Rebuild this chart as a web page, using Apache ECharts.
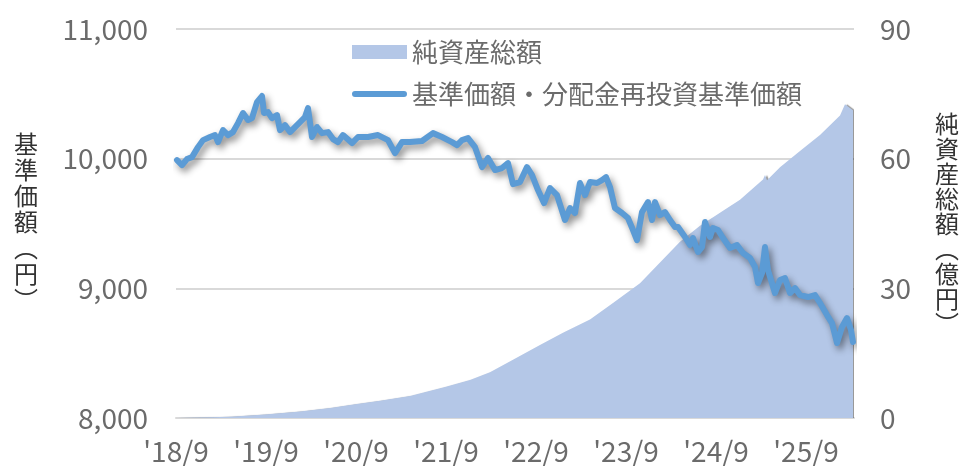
<!DOCTYPE html>
<html><head><meta charset="utf-8">
<script src="https://cdn.jsdelivr.net/npm/echarts@6/dist/echarts.min.js"></script>
<style>html,body{margin:0;padding:0;background:#fff}#c{width:965px;height:466px}</style>
</head><body><div id="c"></div>
<script>
// 基準価額・分配金再投資基準価額 (円)
const navDates = ['2018-09-05','2018-09-25','2018-10-15','2018-11-05','2018-11-29','2018-12-19','2019-01-17','2019-02-07','2019-02-19','2019-03-09','2019-03-29','2019-04-19','2019-05-09','2019-05-29','2019-06-19','2019-07-05','2019-07-25','2019-08-15','2019-08-23','2019-09-09','2019-09-25','2019-10-15','2019-10-27','2019-11-17','2019-12-07','2019-12-27','2020-01-17','2020-02-07','2020-02-19','2020-03-05','2020-03-25','2020-04-15','2020-05-09','2020-05-29','2020-06-19','2020-07-09','2020-08-15','2020-09-09','2020-10-19','2020-11-29','2021-01-09','2021-02-07','2021-03-05','2021-04-07','2021-05-25','2021-07-09','2021-08-15','2021-09-25','2021-10-15','2021-11-05','2021-11-29','2021-12-27','2022-01-25','2022-02-19','2022-03-17','2022-04-15','2022-05-09','2022-05-29','2022-06-27','2022-07-25','2022-08-15','2022-09-09','2022-10-03','2022-10-27','2022-11-25','2022-12-27','2023-01-17','2023-02-07','2023-02-27','2023-03-17','2023-04-07','2023-05-05','2023-05-25','2023-06-11','2023-06-27','2023-07-17','2023-08-15','2023-09-09','2023-09-29','2023-10-15','2023-11-05','2023-11-29','2023-12-15','2023-12-27','2024-01-17','2024-02-07','2024-02-27','2024-03-17','2024-03-29','2024-04-27','2024-05-17','2024-05-29','2024-06-19','2024-07-05','2024-07-17','2024-08-07','2024-08-19','2024-09-09','2024-09-29','2024-10-27','2024-11-25','2024-12-19','2025-01-17','2025-02-07','2025-02-19','2025-03-05','2025-03-17','2025-03-29','2025-04-27','2025-05-17','2025-06-07','2025-06-27','2025-07-17','2025-08-07','2025-09-09','2025-10-07','2025-10-27','2025-11-25','2025-12-15','2026-01-05','2026-01-25','2026-02-15','2026-03-01','2026-03-09'];
const navValues = [9989,9951,9997,10012,10089,10143,10167,10182,10128,10220,10182,10205,10274,10352,10298,10313,10436,10483,10352,10359,10313,10336,10220,10259,10205,10244,10282,10321,10390,10167,10244,10197,10205,10151,10128,10182,10120,10167,10167,10182,10143,10043,10128,10128,10136,10197,10167,10128,10105,10143,10159,10089,9935,10005,9912,9928,9966,9804,9820,9935,9874,9758,9658,9773,9719,9527,9619,9581,9812,9719,9820,9812,9835,9858,9781,9619,9581,9542,9450,9372,9588,9665,9527,9665,9565,9588,9527,9473,9473,9396,9334,9388,9280,9318,9511,9396,9465,9450,9388,9311,9334,9272,9234,9164,9041,9118,9318,9141,8964,9064,9079,8964,9002,8948,8933,8948,8887,8794,8732,8578,8702,8771,8678,8586];
// 純資産総額 (億円)
const aumDates = ['2018-09-01','2018-12-07','2019-04-07','2019-08-27','2020-01-17','2020-05-17','2020-08-27','2020-12-07','2021-04-07','2021-08-27','2021-12-07','2022-02-27','2022-05-29','2022-09-17','2022-12-19','2023-04-07','2023-07-09','2023-10-27','2024-01-17','2024-04-07','2024-06-27','2024-09-17','2024-12-07','2025-03-09','2025-03-17','2025-03-25','2025-05-17','2025-08-07','2025-10-27','2026-01-17','2026-02-07','2026-03-09'];
const aumValues = [0,0.1,0.3,0.8,1.5,2.3,3.2,4.0,5.1,7.2,8.8,10.6,13.5,16.9,19.7,22.8,26.6,31.2,36.0,40.8,44.5,47.5,50.5,55.2,56.2,55.0,58.0,61.8,65.5,70.0,72.6,71.2];
const xStartDate = '2018-09-01';
const xEndDate = '2026-03-13';
const xTickLabels = ["'18/9","'19/9","'20/9","'21/9","'22/9","'23/9","'24/9","'25/9"];
const leftAxisRange = [8000, 11000, 1000];
const rightAxisRange = [0, 90, 30];
const legendNames = ['純資産総額', '基準価額・分配金再投資基準価額'];
const leftAxisName = ['基','準','価','額','︵','円','︶'];
const rightAxisName = ['純','資','産','総','額','︵','億','円','︶'];

function monthOffset(s) {
  const p = s.split('-').map(Number);
  return (p[0] - 2018) * 12 + (p[1] - 9) + (p[2] - 1) / 30;
}
const navData = navDates.map((d, i) => [monthOffset(d), navValues[i]]);
const aumData = aumDates.map((d, i) => [monthOffset(d), aumValues[i]]);

const FONT = '"Noto Sans CJK JP", "Noto Sans", sans-serif';
const TXT = '#6b6b6b';
const chart = echarts.init(document.getElementById('c'), null, {renderer: 'canvas'});
chart.setOption({
  animation: false,
  backgroundColor: '#fff',
  textStyle: {fontFamily: FONT},
  grid: {left: 176, right: 111, top: 29, bottom: 48, containLabel: false},
  legend: {
    orient: 'vertical', left: 347, top: 33, itemGap: 14,
    itemWidth: 55, itemHeight: 14,
    textStyle: {fontSize: 26, color: TXT, fontFamily: FONT, lineHeight: 28},
    data: [
      {name: legendNames[0], icon: 'rect', itemStyle: {color: '#B4C7E7'}},
      {name: legendNames[1],
        icon: 'path://M0,0L55,0ZM3,4L52,4A3,3,0,0,1,52,10L3,10A3,3,0,0,1,3,4ZM0,14L55,14Z',
        itemStyle: {color: '#5B9BD5', borderWidth: 0}}
    ]
  },
  xAxis: {
    type: 'value', min: 0, max: monthOffset(xEndDate), interval: 12,
    axisLine: {show: true, lineStyle: {color: '#D9D9D9', width: 2}},
    axisTick: {show: false},
    splitLine: {show: false},
    axisLabel: {
      margin: 19, fontSize: 28, color: TXT, fontFamily: FONT,
      showMaxLabel: false,
      formatter: v => { const k = Math.round(v / 12); return (Math.abs(v - k * 12) < 1e-6 && k < xTickLabels.length) ? xTickLabels[k] : ''; }
    }
  },
  yAxis: [
    {
      type: 'value', min: leftAxisRange[0], max: leftAxisRange[1], interval: leftAxisRange[2],
      axisLine: {show: false}, axisTick: {show: false},
      splitLine: {show: true, lineStyle: {color: '#D9D9D9', width: 2}},
      axisLabel: {margin: 28, fontSize: 28, color: TXT, fontFamily: FONT,
        formatter: v => v.toLocaleString('en-US')}
    },
    {
      type: 'value', min: rightAxisRange[0], max: rightAxisRange[1], interval: rightAxisRange[2],
      position: 'right',
      axisLine: {show: false}, axisTick: {show: false}, splitLine: {show: false},
      axisLabel: {margin: 26, fontSize: 28, color: TXT, fontFamily: FONT}
    }
  ],
  series: [
    {
      name: legendNames[0], type: 'line', yAxisIndex: 1, data: aumData,
      symbol: 'none', showSymbol: false,
      itemStyle: {color: '#B4C7E7'},
      lineStyle: {width: 0, color: '#B4C7E7'},
      areaStyle: {color: '#B4C7E7', opacity: 1,
        shadowColor: 'rgba(0,0,0,0.4)', shadowOffsetX: 2, shadowOffsetY: 0, shadowBlur: 1},
      z: 1
    },
    {
      name: legendNames[1], type: 'line', yAxisIndex: 0, data: navData,
      symbol: 'none', showSymbol: false,
      itemStyle: {color: '#5B9BD5'},
      lineStyle: {width: 6, color: '#5B9BD5', cap: 'round', join: 'round',
        shadowColor: 'rgba(0,0,0,0.45)', shadowBlur: 7, shadowOffsetX: 3, shadowOffsetY: 4},
      z: 3
    }
  ],
  graphic: [
    {type: 'text', left: 14, top: 131, z: 10,
      style: {text: leftAxisName.join('\n'), font: '24px ' + FONT, fill: '#333', lineHeight: 26, align: 'center'}},
    {type: 'text', left: 935, top: 111, z: 10,
      style: {text: rightAxisName.join('\n'), font: '24px ' + FONT, fill: '#333', lineHeight: 25, align: 'center'}}
  ]
});
</script>
</body></html>
